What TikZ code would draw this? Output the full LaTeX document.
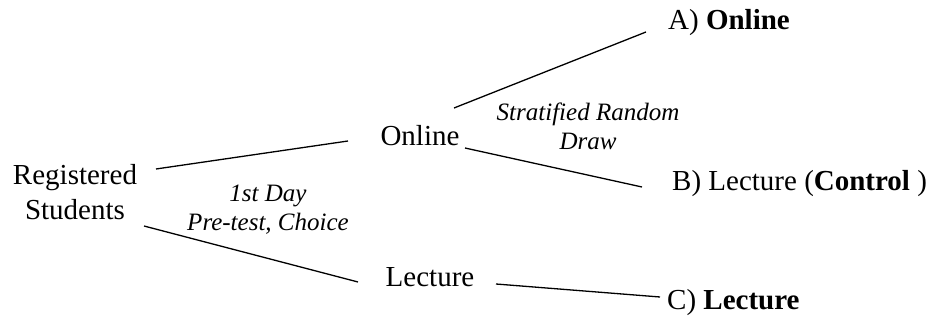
\documentclass[tikz,border=0pt]{standalone}
\usepackage{fontspec}
\setmainfont{Liberation Serif}
\begin{document}
\begin{tikzpicture}[x=1pt,y=-1pt,
  lbl/.style={inner sep=0pt,font=\fontsize{29}{35}\selectfont},
  note/.style={inner sep=0pt,align=center,font=\fontsize{25}{29}\selectfont\itshape},
  conn/.style={line width=1.3pt,black}]
\useasboundingbox (0,0) rectangle (938,323);
% nodes
\node[lbl,align=center] (rs) at (75,191.6) {Registered\\Students};
\node[lbl,anchor=base] (on) at (420,146) {Online};
\node[lbl,anchor=base] (le) at (430,287) {Lecture};
\node[lbl,anchor=base west] (a) at (668,30) {A) \textbf{Online}};
\node[lbl,anchor=base west] (b) at (672,191) {B) Lecture (\textbf{Control} )};
\node[lbl,anchor=base west] (c) at (667,310) {C) \textbf{Lecture}};
\node[note] (n1) at (268,209.5) {1st Day\\Pre-test, Choice};
\node[note] (n2) at (588,126.5) {Stratified Random\\Draw};
% connectors
\draw[conn] ([shift={(81,-22.6)}]rs.center) -- ([shift={(-72,-5)}]on.base);
\draw[conn] ([shift={(69,34.4)}]rs.center) -- ([shift={(-72,-5)}]le.base);
\draw[conn] ([shift={(34,-38)}]on.base) -- ([shift={(-22,2)}]a.base west);
\draw[conn] ([shift={(45,2)}]on.base) -- ([shift={(-30,-4)}]b.base west);
\draw[conn] ([shift={(66,-3)}]le.base) -- ([shift={(-7,-13)}]c.base west);
\end{tikzpicture}
\end{document}
